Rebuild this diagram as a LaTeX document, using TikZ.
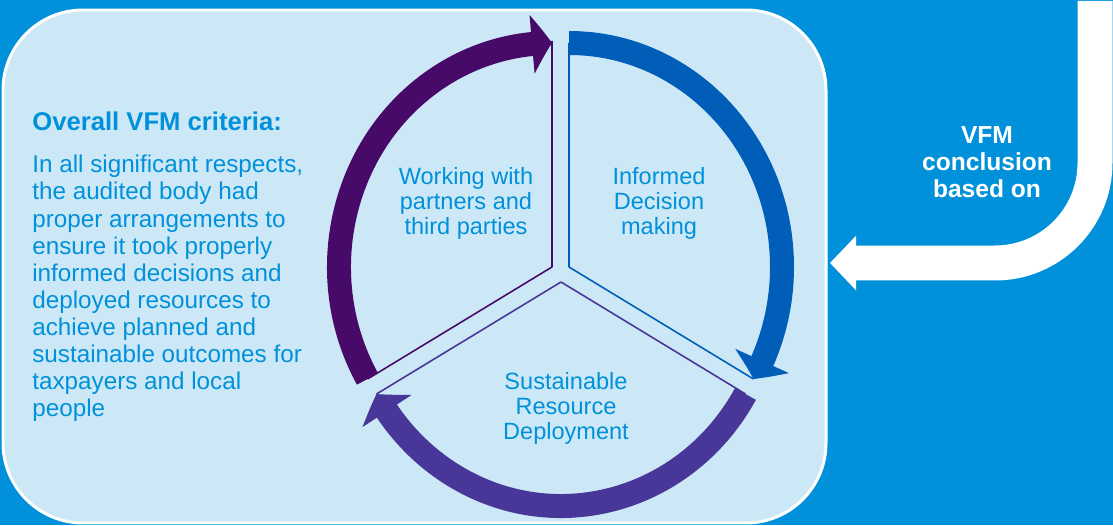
\documentclass[tikz,border=0pt]{standalone}
\usepackage{fontspec}
\setmainfont{Liberation Sans}
\usepackage{tikz}
\usetikzlibrary{arrows.meta, bending}
\usetikzlibrary{positioning}
\definecolor{vfm_blue}{HTML}{0091DA}
\definecolor{vfm_medium}{HTML}{005EB8}
\definecolor{vfm_violet}{HTML}{483698}
\definecolor{vfm_purple}{HTML}{470A68}
\definecolor{vfm_panel}{HTML}{CCE8F6}
\tikzstyle{panel} = [
    fill=vfm_panel,
    draw=white,
    line width=1.7pt,
    rounded corners=1.6cm
]
\tikzstyle{ring} = [
    line width=0.48cm,
    -{Triangle[width=1.16cm, length=0.4cm, bend]}
]
\tikzstyle{spoke} = [
    line width=0.9pt
]
\tikzstyle{conclusion_arrow} = [
    white,
    line width=0.7cm,
    rounded corners=2cm,
    -{Triangle[width=1.06cm, length=0.52cm]}
]
\tikzstyle{wheel_label} = [
    vfm_blue,
    align=center,
    inner sep=0pt,
    font=\fontsize{13.4}{14.2}\selectfont
]
\tikzstyle{criteria_title} = [
    vfm_blue,
    anchor=base west,
    inner sep=0pt,
    font=\fontsize{14.6}{15.4}\selectfont\bfseries
]
\tikzstyle{criteria_text} = [
    vfm_blue,
    anchor=north west,
    align=left,
    inner sep=0pt,
    font=\fontsize{13.8}{15.4}\selectfont
]
\tikzstyle{conclusion_label} = [
    white,
    align=center,
    inner sep=0pt,
    font=\fontsize{14}{15.3}\selectfont\bfseries
]

\begin{document}
\begin{tikzpicture}[x=0.02cm, y=0.02cm]
\useasboundingbox (0,0) rectangle (1113,525);
% background and panel
\fill[vfm_blue] (0,0) rectangle (1113,525);
\draw[panel] (3,2) rectangle (826,515);

% bent arrow coming in from the right
\coordinate (bend_top) at (1095,524);
\coordinate (bend_corner) at (1095,262);
\coordinate (bend_end) at (830,262);
\draw[conclusion_arrow] (bend_top) -- (bend_corner) -- (bend_end);

% hubs of the three sectors
\coordinate (left_hub) at (552,258);
\coordinate (right_hub) at (569,258);
\coordinate (low_hub) at (561,243);

% spokes
\draw[spoke, vfm_purple] (left_hub) -- ++(90:213 and 226) (left_hub) -- ++(210:213 and 224);
\draw[spoke, vfm_medium] (right_hub) -- ++(90:213 and 224) (right_hub) -- ++(330:213 and 224);
\draw[spoke, vfm_violet] (low_hub) -- ++(210:213 and 224) (low_hub) -- ++(330:213 and 224);

% arcs
\draw[ring, vfm_purple] (left_hub) ++(210:213 and 224)
    arc[start angle=210, end angle=90, x radius=213, y radius=224];
\draw[ring, vfm_medium] (right_hub) ++(90:213 and 224)
    arc[start angle=90, end angle=-30, x radius=213, y radius=224];
\draw[ring, vfm_violet] (low_hub) ++(330:213 and 224)
    arc[start angle=330, end angle=210, x radius=213, y radius=224];

% labels
\node[wheel_label] (partners) at (466,322) {Working with\\partners and\\third parties};
\node[wheel_label] (informed) at (659,322) {Informed\\Decision\\making};
\node[wheel_label] (deployment) at (566,117) {Sustainable\\Resource\\Deployment};
\node[conclusion_label] (conclusion) at (987,363) {VFM\\conclusion\\based on};
\node[criteria_title] (criteria) at (32,395) {Overall VFM criteria:};
\node[criteria_text] (criteria_body) at (32,370) {In all significant respects,\\the audited body had\\proper arrangements to\\ensure it took properly\\informed decisions and\\deployed resources to\\achieve planned and\\sustainable outcomes for\\taxpayers and local\\people};
\end{tikzpicture}
\end{document}
